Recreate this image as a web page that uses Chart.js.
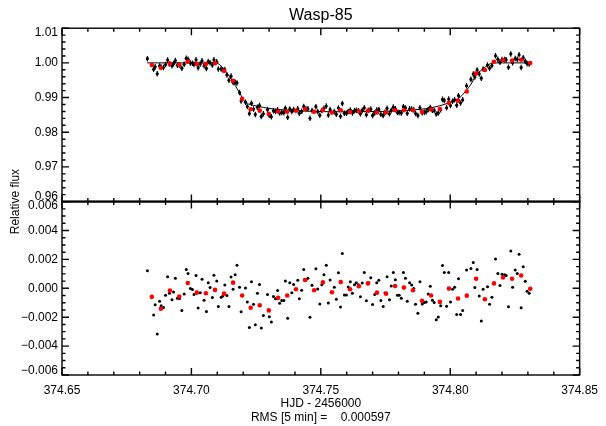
<!DOCTYPE html>
<html>
<head>
<meta charset="utf-8">
<title>Wasp-85</title>
<script src="https://cdn.jsdelivr.net/npm/chart.js@4/dist/chart.umd.min.js"></script>
<style>
  body { margin: 0; background: #fff; }
  canvas { display: block; }
</style>
</head>
<body>
<canvas id="lc" width="606" height="426"></canvas>
<script>
// HJD - 2456000 of every exposure
const time = [
  374.6830, 374.6854, 374.6860, 374.6868, 374.6877, 374.6883, 374.6892, 374.6900, 374.6908, 374.6915,
  374.6925, 374.6931, 374.6938, 374.6946, 374.6954, 374.6963, 374.6972, 374.6980, 374.6987, 374.6996,
  374.7004, 374.7010, 374.7018, 374.7026, 374.7034, 374.7041, 374.7049, 374.7058, 374.7065, 374.7072,
  374.7081, 374.7087, 374.7098, 374.7104, 374.7115, 374.7121, 374.7129, 374.7137, 374.7145, 374.7153,
  374.7161, 374.7169, 374.7176, 374.7186, 374.7192, 374.7209, 374.7216, 374.7224, 374.7232, 374.7240,
  374.7247, 374.7255, 374.7263, 374.7270, 374.7278, 374.7294, 374.7301, 374.7309, 374.7317, 374.7325,
  374.7333, 374.7341, 374.7349, 374.7357, 374.7363, 374.7372, 374.7380, 374.7388, 374.7395, 374.7411,
  374.7417, 374.7426, 374.7434, 374.7443, 374.7450, 374.7458, 374.7466, 374.7481, 374.7488, 374.7496,
  374.7504, 374.7512, 374.7521, 374.7529, 374.7536, 374.7552, 374.7560, 374.7568, 374.7576, 374.7583,
  374.7591, 374.7599, 374.7606, 374.7614, 374.7622, 374.7630, 374.7637, 374.7645, 374.7653, 374.7660,
  374.7668, 374.7676, 374.7685, 374.7693, 374.7700, 374.7708, 374.7716, 374.7724, 374.7732, 374.7741,
  374.7748, 374.7756, 374.7765, 374.7772, 374.7780, 374.7788, 374.7796, 374.7803, 374.7811, 374.7819,
  374.7827, 374.7834, 374.7843, 374.7851, 374.7859, 374.7866, 374.7875, 374.7883, 374.7892, 374.7900,
  374.7907, 374.7915, 374.7923, 374.7931, 374.7938, 374.7946, 374.7954, 374.7963, 374.7970, 374.7977,
  374.7986, 374.7994, 374.8001, 374.8009, 374.8017, 374.8025, 374.8032, 374.8040, 374.8048, 374.8063,
  374.8080, 374.8089, 374.8095, 374.8104, 374.8112, 374.8120, 374.8127, 374.8144, 374.8152, 374.8161,
  374.8175, 374.8184, 374.8192, 374.8200, 374.8210, 374.8216, 374.8225, 374.8234, 374.8241, 374.8251,
  374.8259, 374.8266, 374.8274, 374.8282, 374.8290, 374.8297, 374.8305
];

// relative flux of every exposure
const flux = [
  1.00121, 0.99815, 0.99886, 0.99684, 0.99911, 0.99879, 0.99867, 0.99952, 1.00080, 0.99966,
  0.99920, 0.99975, 1.00069, 0.99931, 0.99929, 0.99847, 0.99961, 1.00130, 1.00103, 0.99998,
  0.99991, 0.99957, 1.00089, 0.99863, 0.99970, 1.00062, 0.99918, 0.99840, 1.00039, 1.00005,
  0.99936, 1.00090, 1.00033, 0.99824, 0.99827, 0.99803, 0.99805, 0.99653, 0.99501, 0.99618,
  0.99438, 0.99444, 0.99422, 0.99145, 0.98899, 0.98866, 0.98745, 0.98539, 0.98837, 0.98668,
  0.98514, 0.98719, 0.98768, 0.98456, 0.98532, 0.98653, 0.98489, 0.98446, 0.98617, 0.98596,
  0.98647, 0.98555, 0.98568, 0.98563, 0.98694, 0.98431, 0.98673, 0.98600, 0.98655, 0.98677,
  0.98547, 0.98603, 0.98744, 0.98670, 0.98677, 0.98404, 0.98625, 0.98737, 0.98596, 0.98492,
  0.98624, 0.98692, 0.98757, 0.98495, 0.98652, 0.98600, 0.98516, 0.98699, 0.98460, 0.98830,
  0.98545, 0.98545, 0.98600, 0.98638, 0.98558, 0.98617, 0.98632, 0.98618, 0.98534, 0.98631,
  0.98704, 0.98507, 0.98634, 0.98668, 0.98485, 0.98556, 0.98640, 0.98657, 0.98519, 0.98480,
  0.98575, 0.98689, 0.98531, 0.98629, 0.98724, 0.98675, 0.98570, 0.98571, 0.98554, 0.98737,
  0.98700, 0.98546, 0.98678, 0.98666, 0.98646, 0.98541, 0.98484, 0.98706, 0.98561, 0.98579,
  0.98590, 0.98653, 0.98715, 0.98633, 0.98629, 0.98524, 0.98556, 0.98651, 0.98947, 0.98917,
  0.98705, 0.98958, 0.98774, 0.98892, 0.98936, 0.98779, 0.99053, 0.98845, 0.98936, 0.99341,
  0.99524, 0.99679, 0.99593, 0.99797, 0.99683, 0.99558, 0.99821, 0.99939, 0.99848, 0.99923,
  1.00203, 1.00103, 1.00020, 1.00098, 1.00094, 1.00089, 0.99872, 1.00258, 1.00007, 1.00126,
  1.00103, 1.00235, 0.99865, 1.00149, 1.00048, 0.99979, 0.99965
];

// flux - model
const resid = [
  0.00121, -0.00185, -0.00114, -0.00316, -0.00089, -0.00121, -0.00133, -0.00048, 0.00080, -0.00034,
  -0.00080, -0.00025, 0.00069, -0.00069, -0.00071, -0.00153, -0.00039, 0.00130, 0.00103, -0.00002,
  -0.00009, -0.00043, 0.00089, -0.00137, -0.00030, 0.00062, -0.00082, -0.00160, 0.00039, 0.00005,
  -0.00064, 0.00090, 0.00050, -0.00126, -0.00062, -0.00053, 0.00023, -0.00050, -0.00126, 0.00078,
  -0.00007, 0.00094, 0.00160, 0.00007, -0.00162, 0.00002, -0.00094, -0.00272, 0.00046, -0.00110,
  -0.00252, -0.00034, 0.00027, -0.00275, -0.00188, -0.00043, -0.00197, -0.00233, -0.00057, -0.00073,
  -0.00016, -0.00103, -0.00085, -0.00085, 0.00050, -0.00208, 0.00039, -0.00030, 0.00027, 0.00055,
  -0.00073, -0.00014, 0.00130, 0.00059, 0.00069, -0.00201, 0.00021, 0.00135, -0.00005, -0.00108,
  0.00025, 0.00094, 0.00160, -0.00101, 0.00057, 0.00007, -0.00076, 0.00108, -0.00130, 0.00240,
  -0.00046, -0.00046, 0.00009, 0.00046, -0.00034, 0.00025, 0.00039, 0.00025, -0.00059, 0.00037,
  0.00110, -0.00087, 0.00039, 0.00073, -0.00112, -0.00043, 0.00039, 0.00055, -0.00085, -0.00126,
  -0.00032, 0.00080, -0.00080, 0.00016, 0.00110, 0.00059, -0.00048, -0.00048, -0.00069, 0.00110,
  0.00069, -0.00089, 0.00039, 0.00023, -0.00002, -0.00110, -0.00172, 0.00046, -0.00108, -0.00098,
  -0.00094, -0.00039, 0.00014, -0.00082, -0.00098, -0.00217, -0.00199, -0.00121, 0.00158, 0.00110,
  -0.00124, 0.00110, -0.00094, -0.00007, 0.00007, -0.00181, 0.00066, -0.00181, -0.00153, 0.00126,
  0.00137, 0.00178, 0.00006, 0.00130, -0.00053, -0.00227, -0.00007, 0.00011, -0.00110, -0.00062,
  0.00203, 0.00103, 0.00020, 0.00098, 0.00094, 0.00089, -0.00128, 0.00258, 0.00007, 0.00126,
  0.00103, 0.00235, -0.00135, 0.00149, 0.00048, -0.00021, -0.00035
];
const fluxErr = 0.0008;

// 5 min bins (red)
const binTime = [
  374.6847, 374.6882, 374.6917, 374.6953, 374.6986, 374.7021, 374.7056, 374.7091, 374.7126, 374.7161,
  374.7196, 374.7229, 374.7264, 374.7299, 374.7335, 374.7370, 374.7404, 374.7439, 374.7474, 374.7508,
  374.7543, 374.7577, 374.7613, 374.7647, 374.7682, 374.7717, 374.7752, 374.7787, 374.7821, 374.7856,
  374.7891, 374.7926, 374.7960, 374.7995, 374.8030, 374.8064, 374.8100, 374.8134, 374.8169, 374.8204,
  374.8239, 374.8274, 374.8309
];
const binFlux = [
  0.99941, 0.99858, 0.99984, 0.99943, 1.00037, 0.99970, 0.99966, 0.99989, 0.99774, 0.99484,
  0.98961, 0.98662, 0.98623, 0.98534, 0.98596, 0.98590, 0.98618, 0.98669, 0.98589, 0.98639,
  0.98567, 0.98633, 0.98585, 0.98607, 0.98629, 0.98571, 0.98571, 0.98632, 0.98633, 0.98632,
  0.98581, 0.98654, 0.98671, 0.98848, 0.98908, 0.99174, 0.99698, 0.99793, 1.00034, 1.00075,
  1.00066, 1.00089, 0.99997
];
const binResid = [
  -0.00059, -0.00142, -0.00016, -0.00057, 0.00037, -0.00030, -0.00034, -0.00011, -0.00037, 0.00039,
  -0.00050, -0.00135, -0.00117, -0.00153, -0.00066, -0.00050, -0.00007, 0.00057, -0.00014, 0.00041,
  -0.00027, 0.00043, -0.00007, 0.00014, 0.00034, -0.00030, -0.00037, 0.00016, 0.00005, -0.00014,
  -0.00087, -0.00050, -0.00094, -0.00002, -0.00071, -0.00051, 0.00066, -0.00076, 0.00034, 0.00075,
  0.00066, 0.00089, -0.00003
];

// transit model curve
const modelTime = [
  374.6829, 374.7095, 374.7122, 374.7149, 374.7169, 374.7188, 374.7207, 374.7227, 374.7252, 374.7304,
  374.7381, 374.7458, 374.7574, 374.7690, 374.7806, 374.7883, 374.7922, 374.7960, 374.7999, 374.8038,
  374.8057, 374.8070, 374.8084, 374.8095, 374.8111, 374.8127, 374.8146, 374.8166, 374.8308
];
const modelFlux = [
  1.00000, 1.00000, 0.99850, 0.99587, 0.99350, 0.99112, 0.98871, 0.98800, 0.98757, 0.98682,
  0.98633, 0.98605, 0.98590, 0.98595, 0.98620, 0.98660, 0.98699, 0.98765, 0.98860, 0.99010,
  0.99160, 0.99280, 0.99430, 0.99587, 0.99730, 0.99828, 0.99940, 1.00000, 1.00000
];

// axes
const xTicks = [374.65, 374.70, 374.75, 374.80, 374.85];
const xTickLabels = ['374.65', '374.70', '374.75', '374.80', '374.85'];
const yTicks = [0.96, 0.97, 0.98, 0.99, 1.00, 1.01];
const yTickLabels = ['0.96', '0.97', '0.98', '0.99', '1.00', '1.01'];
const y2Ticks = [-0.006, -0.004, -0.002, 0.000, 0.002, 0.004, 0.006];
const y2TickLabels = ['\u22120.006', '\u22120.004', '\u22120.002', '0.000', '0.002', '0.004', '0.006'];

const FONT = "'Liberation Sans', Arial, sans-serif";

function pairs(xs, ys) {
    return xs.map(function (x, i) { return { x: x, y: ys[i] }; });
}

// end labels sit a little inside the panel: push them with an empty line
function endLabel(labels, i) {
    if (i === 0) return [labels[i], ''];
    if (i === labels.length - 1) return ['', labels[i]];
    return labels[i];
}

// minor tick spacing for each panel (IDL style inward ticks)
const xMinor = 0.01;
const panels = [
    { id: 'y', minor: 0.002, per: 5 },
    { id: 'y2', minor: 0.0005, per: 4 }
];

// vertical error bars under the black points of the top panel
const errorBars = {
    id: 'errorBars',
    beforeDatasetsDraw(chart) {
        const ctx = chart.ctx;
        const meta = chart.getDatasetMeta(1);
        const ys = chart.scales.y;
        ctx.save();
        ctx.strokeStyle = '#000';
        ctx.lineWidth = 1.2;
        ctx.beginPath();
        meta.data.forEach(function (pt, i) {
            ctx.moveTo(pt.x, ys.getPixelForValue(flux[i] + fluxErr));
            ctx.lineTo(pt.x, ys.getPixelForValue(flux[i] - fluxErr));
        });
        ctx.stroke();
        ctx.restore();
    }
};

// panel boxes, inward ticks and the shared y title
const boxAndTicks = {
    id: 'boxAndTicks',
    afterDraw(chart) {
        const ctx = chart.ctx;
        const a = chart.chartArea;
        const xs = chart.scales.x;
        ctx.save();
        ctx.strokeStyle = '#000';
        ctx.lineWidth = 1.4;
        panels.forEach(function (p) {
            const ys = chart.scales[p.id];
            const top = ys.top, bottom = ys.bottom;
            ctx.strokeRect(a.left, top, a.right - a.left, bottom - top);
            ctx.beginPath();
            const nx = Math.round((xs.max - xs.min) / xMinor);
            for (let i = 0; i <= nx; i++) {
                const px = xs.getPixelForValue(xs.min + i * xMinor);
                const len = i % 5 === 0 ? 7 : 3.5;
                ctx.moveTo(px, top); ctx.lineTo(px, top + len);
                ctx.moveTo(px, bottom); ctx.lineTo(px, bottom - len);
            }
            const ny = Math.round((ys.max - ys.min) / p.minor);
            for (let j = 0; j <= ny; j++) {
                const py = ys.getPixelForValue(ys.min + j * p.minor);
                const len = j % p.per === 0 ? 7 : 3.5;
                ctx.moveTo(a.left, py); ctx.lineTo(a.left + len, py);
                ctx.moveTo(a.right, py); ctx.lineTo(a.right - len, py);
            }
            ctx.stroke();
        });
        // the panel boundary is drawn heavier
        ctx.lineWidth = 2;
        ctx.beginPath();
        ctx.moveTo(a.left, chart.scales.y.bottom);
        ctx.lineTo(a.right, chart.scales.y.bottom);
        ctx.stroke();
        // "Relative flux" sits across both panels
        ctx.translate(16, chart.scales.y.bottom);
        ctx.rotate(-Math.PI / 2);
        ctx.fillStyle = '#000';
        ctx.font = '12px ' + FONT;
        ctx.textAlign = 'center';
        ctx.textBaseline = 'middle';
        ctx.fillText('Relative flux', 0, 0);
        ctx.restore();
    }
};

const tickFont = { size: 12, family: FONT, lineHeight: 0.75 };

new Chart(document.getElementById('lc'), {
    type: 'scatter',
    data: {
        datasets: [
            {   // binned flux
                data: pairs(binTime, binFlux), yAxisID: 'y', order: 0,
                pointRadius: 2.3, pointBackgroundColor: '#ff0000', pointBorderWidth: 0
            },
            {   // flux
                data: pairs(time, flux), yAxisID: 'y', order: 1,
                pointRadius: 1.6, pointBackgroundColor: '#000', pointBorderWidth: 0
            },
            {   // model
                data: pairs(modelTime, modelFlux), yAxisID: 'y', order: 2,
                showLine: true, pointRadius: 0, borderColor: '#000', borderWidth: 1,
                cubicInterpolationMode: 'monotone'
            },
            {   // binned residuals
                data: pairs(binTime, binResid), yAxisID: 'y2', order: 0,
                pointRadius: 2.3, pointBackgroundColor: '#ff0000', pointBorderWidth: 0
            },
            {   // residuals
                data: pairs(time, resid), yAxisID: 'y2', order: 1,
                pointRadius: 1.5, pointBackgroundColor: '#000', pointBorderWidth: 0
            }
        ]
    },
    options: {
        responsive: false,
        animation: false,
        devicePixelRatio: 1,
        layout: { padding: { left: 0, right: 26, top: 0, bottom: 0 } },
        plugins: {
            legend: { display: false },
            tooltip: { enabled: false },
            title: {
                display: true, text: 'Wasp-85', color: '#000', fullSize: false,
                font: { size: 16, family: FONT, weight: 'normal' },
                padding: { top: 6, bottom: 3 }
            }
        },
        scales: {
            x: {
                type: 'linear', min: 374.65, max: 374.85,
                grid: { display: false, drawTicks: false }, border: { display: false },
                afterBuildTicks: function (s) { s.ticks = xTicks.map(function (v) { return { value: v }; }); },
                ticks: {
                    color: '#000', font: { size: 12, family: FONT }, padding: 8, maxRotation: 0, autoSkip: false,
                    callback: function (v, i) { return xTickLabels[i]; }
                },
                title: {
                    display: true, color: '#000',
                    text: ['HJD - 2456000', 'RMS [5 min] =    0.000597'],
                    font: { size: 12, family: FONT, lineHeight: 1.17 },
                    padding: { top: 0, bottom: 1 }
                },
                afterFit: function (s) { s.height = 51; }
            },
            y: {
                type: 'linear', position: 'left', min: 0.96, max: 1.01,
                stack: 'panels', stackWeight: 1, weight: 1,
                grid: { display: false, drawTicks: false }, border: { display: false },
                afterBuildTicks: function (s) { s.ticks = yTicks.map(function (v) { return { value: v }; }); },
                ticks: {
                    color: '#000', font: tickFont, padding: 4, autoSkip: false,
                    callback: function (v, i) { return endLabel(yTickLabels, i); }
                },
                afterFit: function (s) { s.width = 62; }
            },
            y2: {
                type: 'linear', position: 'left', min: -0.006, max: 0.006,
                stack: 'panels', stackWeight: 1, weight: 0,
                grid: { display: false, drawTicks: false }, border: { display: false },
                afterBuildTicks: function (s) { s.ticks = y2Ticks.map(function (v) { return { value: v }; }); },
                ticks: {
                    color: '#000', font: tickFont, padding: 4, autoSkip: false,
                    callback: function (v, i) { return endLabel(y2TickLabels, i); }
                },
                afterFit: function (s) { s.width = 62; }
            }
        }
    },
    plugins: [errorBars, boxAndTicks]
});
</script>
</body>
</html>
